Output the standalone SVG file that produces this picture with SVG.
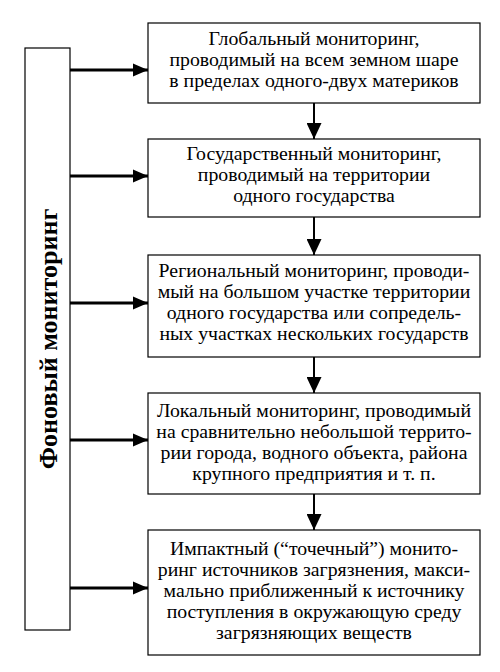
<svg xmlns="http://www.w3.org/2000/svg" width="500" height="672" viewBox="0 0 500 672">
<style>
.box{fill:#fff;stroke:#000;stroke-width:1.2}
.t{font-family:"Liberation Serif","Times New Roman",serif;font-size:19.8px;text-anchor:middle;fill:#000}
.v{font-family:"Liberation Serif","Times New Roman",serif;font-size:26px;font-weight:bold;text-anchor:middle;fill:#000}
.h{stroke:#000;stroke-width:3;fill:none}
.d{stroke:#000;stroke-width:2;fill:none}
</style>
<defs>
<marker id="ah" viewBox="0 0 10 10" refX="10" refY="5" markerWidth="5" markerHeight="4.4" orient="auto" markerUnits="strokeWidth" preserveAspectRatio="none">
<path d="M0,0 L10,5 L0,10 Z" fill="#000"/>
</marker>
<marker id="av" viewBox="0 0 10 10" refX="10" refY="5" markerWidth="8" markerHeight="7.5" orient="auto" markerUnits="strokeWidth" preserveAspectRatio="none">
<path d="M0,0 L10,5 L0,10 Z" fill="#000"/>
</marker>
</defs>
<rect width="500" height="672" fill="#fff"/>
<g id="fon">
<rect class="box" x="25" y="48" width="45" height="582"/>
<text class="v" transform="translate(57,339) rotate(-90)">Фоновый мониторинг</text>
</g>
<g id="n1">
<rect class="box" x="148" y="23" width="332" height="80"/>
<text class="t" x="314" y="45">Глобальный мониторинг,</text>
<text class="t" x="314" y="66">проводимый на всем земном шаре</text>
<text class="t" x="314" y="87">в пределах одного-двух материков</text>
</g>
<g id="n2">
<rect class="box" x="148" y="139" width="332" height="78"/>
<text class="t" x="314" y="160">Государственный мониторинг,</text>
<text class="t" x="314" y="181">проводимый на территории</text>
<text class="t" x="314" y="202">одного государства</text>
</g>
<g id="n3">
<rect class="box" x="148" y="255" width="332" height="102"/>
<text class="t" x="314" y="277">Региональный мониторинг, проводи-</text>
<text class="t" x="314" y="298">мый на большом участке территории</text>
<text class="t" x="314" y="319">одного государства или сопредель-</text>
<text class="t" x="314" y="340">ных участках нескольких государств</text>
</g>
<g id="n4">
<rect class="box" x="148" y="393" width="332" height="101"/>
<text class="t" x="314" y="417">Локальный мониторинг, проводимый</text>
<text class="t" x="314" y="438">на сравнительно небольшой террито-</text>
<text class="t" x="314" y="459">рии города, водного объекта, района</text>
<text class="t" x="314" y="480">крупного предприятия и т. п.</text>
</g>
<g id="n5">
<rect class="box" x="148" y="530" width="332" height="125"/>
<text class="t" x="314" y="555">Импактный (“точечный”) монито-</text>
<text class="t" x="314" y="576">ринг источников загрязнения, макси-</text>
<text class="t" x="314" y="597">мально приближенный к источнику</text>
<text class="t" x="314" y="618">поступления в окружающую среду</text>
<text class="t" x="314" y="639">загрязняющих веществ</text>
</g>
<g id="connectors">
<line class="h" x1="70" y1="70" x2="148" y2="70" marker-end="url(#ah)"/>
<line class="h" x1="70" y1="176" x2="148" y2="176" marker-end="url(#ah)"/>
<line class="h" x1="70" y1="303" x2="148" y2="303" marker-end="url(#ah)"/>
<line class="h" x1="70" y1="440" x2="148" y2="440" marker-end="url(#ah)"/>
<line class="h" x1="70" y1="588" x2="148" y2="588" marker-end="url(#ah)"/>
<line class="d" x1="314" y1="103" x2="314" y2="139" marker-end="url(#av)"/>
<line class="d" x1="314" y1="217" x2="314" y2="255" marker-end="url(#av)"/>
<line class="d" x1="314" y1="357" x2="314" y2="393" marker-end="url(#av)"/>
<line class="d" x1="314" y1="494" x2="314" y2="530" marker-end="url(#av)"/>
</g>
</svg>
